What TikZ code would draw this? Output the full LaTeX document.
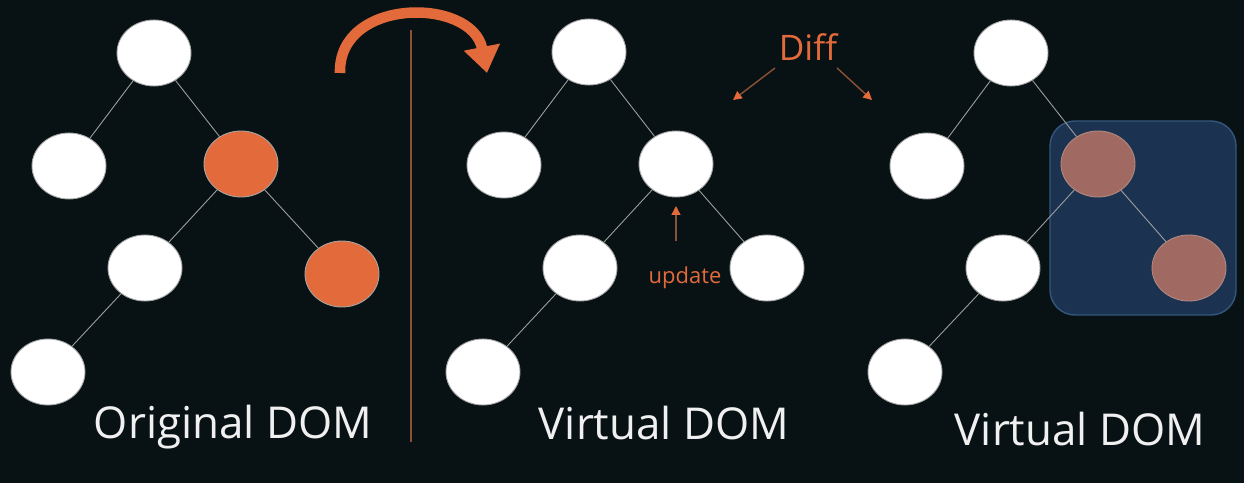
\documentclass[tikz,border=0pt]{standalone}
\usepackage{fontspec}
\setmainfont{Open Sans}
\usetikzlibrary{shapes.geometric}
\usetikzlibrary{arrows.meta}
\definecolor{bgdark}{HTML}{081214}
\definecolor{domorange}{HTML}{E36A3A}
\definecolor{arrowbrown}{HTML}{8C5238}
\definecolor{patchfill}{HTML}{1B3350}
\definecolor{patchedge}{HTML}{34567A}
\definecolor{patched}{HTML}{A06A62}
\tikzset{
	domnode/.style={ellipse, draw=gray!70, line width=0.5pt, fill=white, minimum width=1.48cm, minimum height=1.32cm, inner sep=0pt},
	changed/.style={domnode, fill=domorange},
	diffed/.style={domnode, fill=patched, draw=patched!80!white},
	branch/.style={draw=gray!75, line width=0.5pt},
	title/.style={text=white!94!black, font=\fontsize{25}{28}\selectfont},
	note/.style={-{Triangle[length=5pt, width=5pt, color=domorange]}, arrowbrown, line width=0.8pt}
}

\begin{document}
\begin{tikzpicture}[x=0.02cm, y=-0.02cm]
		\fill[bgdark] (0, 0) rectangle (1244, 483);
		\useasboundingbox (0, 0) rectangle (1244, 483);
		% original tree
		\node[domnode] (oroot) at (154, 53) {};
		\node[domnode] (ol) at (69, 166) {};
		\node[changed] (or) at (241, 164) {};
		\node[domnode] (orl) at (145, 268) {};
		\node[changed] (orr) at (342, 274) {};
		\node[domnode] (orll) at (48, 372) {};
		\draw[branch] (oroot) -- (ol) (oroot) -- (or) (or) -- (orl) (or) -- (orr) (orl) -- (orll);
		\node[title] (otitle) at (233, 427) {Original DOM};
		% divider and render arrow
		\coordinate (dtop) at (411, 30);
		\coordinate (dbot) at (411, 442);
		\draw[arrowbrown, line width=1.2pt] (dtop) -- (dbot);
		\coordinate (rstart) at (340, 73);
		\coordinate (rend) at (487, 73);
		\draw[domorange, line width=6pt, -{Triangle[length=15pt, width=20pt]}] (rstart) .. controls (338, -3) and (472, -3) .. (rend);
		% virtual tree
		\node[domnode] (vroot) at (589, 52) {};
		\node[domnode] (vl) at (504, 165) {};
		\node[domnode] (vr) at (676, 164) {};
		\node[domnode] (vrl) at (580, 268) {};
		\node[domnode] (vrr) at (767, 268) {};
		\node[domnode] (vrll) at (483, 372) {};
		\draw[branch] (vroot) -- (vl) (vroot) -- (vr) (vr) -- (vrl) (vr) -- (vrr) (vrl) -- (vrll);
		\node[text=domorange, font=\fontsize{12.5}{14}\selectfont] (upd) at (685, 278) {update};
		\coordinate (ufoot) at (676, 241);
		\coordinate (utip) at (676, 206);
		\draw[note] (ufoot) -- (utip);
		\node[title] (vtitle) at (664, 423) {Virtual DOM};
		% diff
		\node[text=domorange, font=\fontsize{20}{23}\selectfont] (diff) at (808, 47) {Diff};
		\coordinate (dleft) at (733, 100);
		\coordinate (dright) at (872, 100);
		\draw[note] (775, 68) -- (dleft);
		\draw[note] (837, 68) -- (dright);
		% patched tree
		\filldraw[fill=patchfill, draw=patchedge, line width=0.8pt, rounded corners=0.5cm] (1050, 121) rectangle (1236, 315);
		\node[domnode] (proot) at (1011, 53) {};
		\node[domnode] (pl) at (927, 166) {};
		\node[diffed] (pr) at (1098, 164) {};
		\node[domnode] (prl) at (1003, 268) {};
		\node[diffed] (prr) at (1189, 268) {};
		\node[domnode] (prll) at (905, 372) {};
		\draw[branch] (proot) -- (pl) (proot) -- (pr) (pr) -- (prl) (pr) -- (prr) (prl) -- (prll);
		\node[title] (ptitle) at (1080, 429) {Virtual DOM};
	\end{tikzpicture}
\end{document}
